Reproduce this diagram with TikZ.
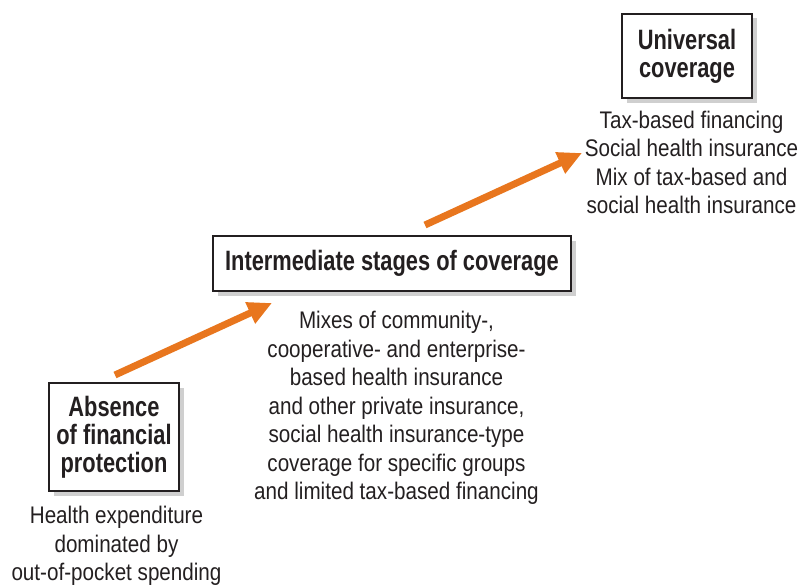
\documentclass[tikz,border=0pt]{standalone}
\usepackage{fontspec}
\setmainfont[FakeStretch=0.86]{Liberation Sans}
\newfontfamily\hdfont[FakeStretch=0.78]{Liberation Sans}
\usetikzlibrary{arrows.meta,shadows}
\definecolor{txt}{HTML}{231F20}
\definecolor{orng}{HTML}{E8761E}
\definecolor{shd}{HTML}{CFCFCF}
\begin{document}
\begin{tikzpicture}[x=1pt,y=-1pt,
  box/.style={draw=txt, line width=1.3pt, fill=white, inner sep=0pt, align=center,
    text=txt, font=\hdfont\bfseries\fontsize{28}{28}\selectfont,
    copy shadow={shadow xshift=4.5pt, shadow yshift=-4.5pt, fill=shd, draw=none}},
  body/.style={anchor=north, inner sep=0pt, align=center, text=txt,
    font=\fontsize{24}{28.5}\selectfont},
  arr/.style={draw=orng, line width=7pt, -{Triangle[length=24pt,width=22pt]}}]
\useasboundingbox (0,0) rectangle (800,586);

\node[box, minimum width=130pt, minimum height=84pt] (univ) at (687,56) {Universal\\coverage};
\node[box, minimum width=358pt, minimum height=55pt] (inter) at (392,263.5) {Intermediate stages of coverage};
\node[box, minimum width=130pt, minimum height=108pt] (abs) at (114,437) {Absence\\of financial\\protection};

\node[body] (univtxt) at (691.5,110.5) {Tax-based financing\\Social health insurance\\Mix of tax-based and\\social health insurance};
\node[body] (intertxt) at (396.5,311) {Mixes of community-,\\cooperative- and enterprise-\\based health insurance\\and other private insurance,\\social health insurance-type\\coverage for specific groups\\and limited tax-based financing};
\node[body] (abstxt) at (116.5,506) {Health expenditure\\dominated by\\out-of-pocket spending};

\coordinate (a1s) at (115,375);
\coordinate (a1e) at (272,303);
\coordinate (a2s) at (425,225);
\coordinate (a2e) at (582,153);
\draw[arr] (a1s) -- (a1e);
\draw[arr] (a2s) -- (a2e);
\end{tikzpicture}
\end{document}
